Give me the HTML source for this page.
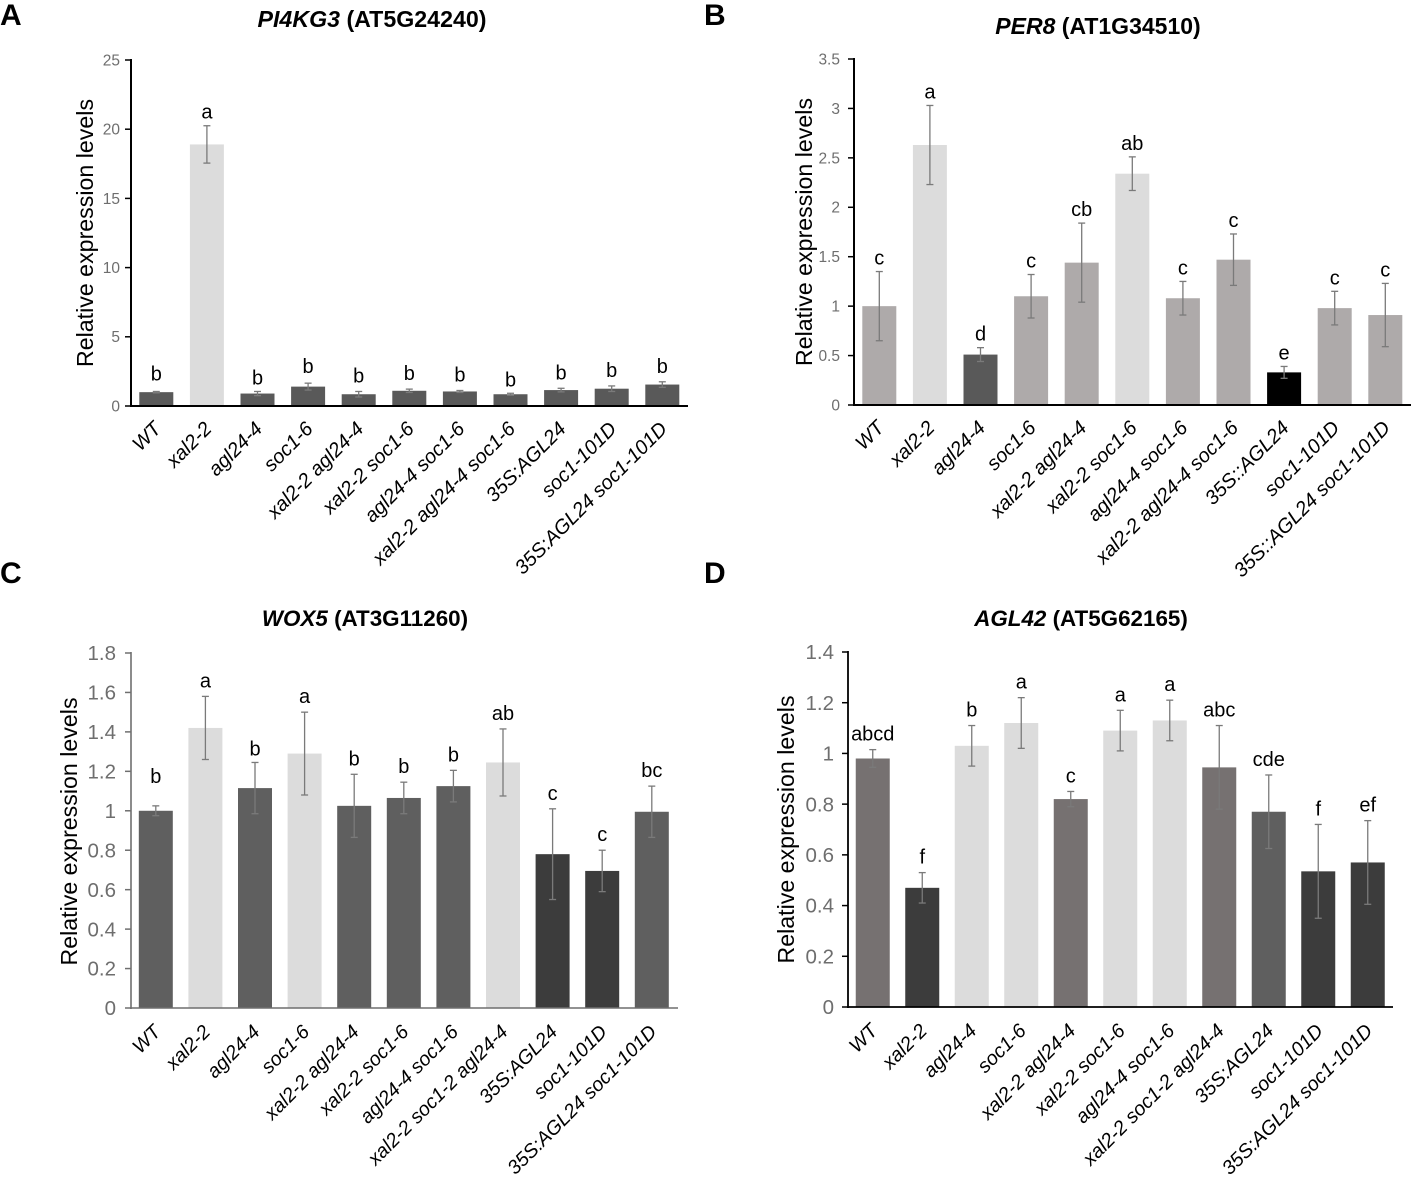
<!DOCTYPE html>
<html lang="en">
<head>
<meta charset="utf-8">
<title>Relative expression levels</title>
<style>
html,body{margin:0;padding:0;background:#fff;}
svg{display:block;font-family:"Liberation Sans",Arial,sans-serif;}
</style>
</head>
<body>
<svg id="fig" xmlns="http://www.w3.org/2000/svg" width="1417" height="1182" viewBox="0 0 1417 1182"></svg>
<script>
/* ---- Panel A data ---- */
const aCategories = ['WT','xal2-2','agl24-4','soc1-6','xal2-2 agl24-4','xal2-2 soc1-6','agl24-4 soc1-6','xal2-2 agl24-4 soc1-6','35S:AGL24','soc1-101D','35S:AGL24 soc1-101D'];
const aValues = [1.0,18.9,0.9,1.4,0.85,1.1,1.05,0.85,1.15,1.25,1.55];
const aErrors = [0.05,1.35,0.15,0.25,0.2,0.12,0.07,0.07,0.13,0.2,0.2];
const aLetters = ['b','a','b','b','b','b','b','b','b','b','b'];
const aShades = ['dark','light','dark','dark','dark','dark','dark','dark','dark','dark','dark'];
const aTicks = ['0','5','10','15','20','25'];

/* ---- Panel B data ---- */
const bCategories = ['WT','xal2-2','agl24-4','soc1-6','xal2-2 agl24-4','xal2-2 soc1-6','agl24-4 soc1-6','xal2-2 agl24-4 soc1-6','35S::AGL24','soc1-101D','35S::AGL24 soc1-101D'];
const bValues = [1.0,2.63,0.51,1.1,1.44,2.34,1.08,1.47,0.33,0.98,0.91];
const bErrors = [0.35,0.4,0.07,0.22,0.4,0.17,0.17,0.26,0.06,0.17,0.32];
const bLetters = ['c','a','d','c','cb','ab','c','c','e','c','c'];
const bShades = ['mid','light','dark','mid','mid','light','mid','mid','black','mid','mid'];
const bTicks = ['0','0.5','1','1.5','2','2.5','3','3.5'];

/* ---- Panel C data ---- */
const cCategories = ['WT','xal2-2','agl24-4','soc1-6','xal2-2 agl24-4','xal2-2 soc1-6','agl24-4 soc1-6','xal2-2 soc1-2 agl24-4','35S:AGL24','soc1-101D','35S:AGL24 soc1-101D'];
const cValues = [1.0,1.42,1.115,1.29,1.025,1.065,1.125,1.245,0.78,0.695,0.995];
const cErrors = [0.025,0.16,0.13,0.21,0.16,0.08,0.08,0.17,0.23,0.105,0.13];
const cLetters = ['b','a','b','a','b','b','b','ab','c','c','bc'];
const cShades = ['slate','light','slate','light','slate','slate','slate','light','char','char','slate'];
const cTicks = ['0','0.2','0.4','0.6','0.8','1','1.2','1.4','1.6','1.8'];

/* ---- Panel D data ---- */
const dCategories = ['WT','xal2-2','agl24-4','soc1-6','xal2-2 agl24-4','xal2-2 soc1-6','agl24-4 soc1-6','xal2-2 soc1-2 agl24-4','35S:AGL24','soc1-101D','35S:AGL24 soc1-101D'];
const dValues = [0.98,0.47,1.03,1.12,0.82,1.09,1.13,0.945,0.77,0.535,0.57];
const dErrors = [0.035,0.06,0.08,0.1,0.03,0.08,0.08,0.165,0.145,0.185,0.165];
const dLetters = ['abcd','f','b','a','c','a','a','abc','cde','f','ef'];
const dShades = ['warm','char','light','light','warm','light','light','warm','slate','char','char'];
const dTicks = ['0','0.2','0.4','0.6','0.8','1','1.2','1.4'];

const palette = {dark:'#595959',light:'#dcdcdc',mid:'#aeaaaa',black:'#000000',slate:'#5f5f5f',char:'#3c3c3c',warm:'#767171'};
const NS = 'http://www.w3.org/2000/svg';
const fig = document.getElementById('fig');

function make(parent, tag, attrs, text){
  const n = document.createElementNS(NS, tag);
  for (const k in attrs) n.setAttribute(k, attrs[k]);
  if (text !== undefined) n.textContent = text;
  parent.appendChild(n);
  return n;
}
function slug(s){ return s.toLowerCase().replace(/[^a-z0-9]+/g,'-'); }

function drawPanel(p){
  const g = make(fig,'g',{});
  
  

  const maxV = parseFloat(p.ticks[p.ticks.length-1]);
  const yScale = v => p.bottom - (v / maxV) * (p.bottom - p.top);
  const xScale = i => p.left + p.band * (i + 0.5);

  // panel letter
  const pl = make(g,'text',{x:p.tagX,y:p.tagY,'font-size':30,'font-weight':'bold',fill:'#000'},p.id.toUpperCase());
  
  

  // title
  const t = make(g,'text',{x:p.titleX,y:p.titleY,'font-size':p.titleSize,'font-weight':'bold','text-anchor':'middle',fill:'#000'});
  
  
  make(t,'tspan',{'font-style':'italic'},p.gene);
  make(t,'tspan',{},' ' + p.locus);

  // y axis title
  const yt = make(g,'text',{transform:'translate('+p.yTitleX+','+((p.top+p.bottom)/2+p.yTitleShift)+') rotate(-90)','font-size':p.yTitleSize,'text-anchor':'middle',fill:'#000'},'Relative expression levels');
  
  

  // bars
  p.values.forEach((v,i)=>{
    const r = make(g,'rect',{x:xScale(i)-p.barW/2,y:yScale(v),width:p.barW,height:p.bottom-yScale(v),fill:palette[p.shades[i]]});
    
    
  });

  // error bars + letters
  p.values.forEach((v,i)=>{
    const x = xScale(i), hi = yScale(v + p.errors[i]), lo = yScale(v - p.errors[i]);
    const eg = make(g,'g',{stroke:'#7a7a7a','stroke-width':1.3,fill:'none'});
    
    
    make(eg,'line',{x1:x,x2:x,y1:hi,y2:lo});
    make(eg,'line',{x1:x-3.5,x2:x+3.5,y1:hi,y2:hi});
    make(eg,'line',{x1:x-3.5,x2:x+3.5,y1:lo,y2:lo});
    const extra = (p.letterLift && p.letterLift[i]) || 0;
    const l = make(g,'text',{x:x,y:hi-p.letterGap-extra,'font-size':p.letterSize,'text-anchor':'middle',fill:'#000'},p.letters[i]);
    
    
  });

  // axes
  const ax = make(g,'g',{stroke:p.axisColor,'stroke-width':p.axisW,fill:'none'});
  
  
  make(ax,'line',{x1:p.left,x2:p.left,y1:p.top-1,y2:p.bottom+1});
  make(ax,'line',{x1:p.left-1,x2:p.right,y1:p.bottom,y2:p.bottom});

  // y ticks
  p.ticks.forEach(tk=>{
    const y = yScale(parseFloat(tk));
    make(ax,'line',{x1:p.left-6,x2:p.left,y1:y,y2:y,'stroke-width':1.5});
    const lab = make(g,'text',{x:p.left-p.tickGap,y:y+p.tickSize*0.35,'font-size':p.tickSize,'text-anchor':'end',fill:'#6e6e6e'},tk);
    
    
  });

  // x labels
  p.categories.forEach((c,i)=>{
    const x = xScale(i) + p.catDX, y = p.bottom + p.catDY;
    const lab = make(g,'text',{transform:'translate('+x+','+y+') rotate(-45)','font-size':p.catSize,'font-style':'italic','text-anchor':'end',fill:'#000'},c);
    
    
  });
}

drawPanel({id:'a',gene:'PI4KG3',locus:'(AT5G24240)',categories:aCategories,values:aValues,errors:aErrors,letters:aLetters,shades:aShades,ticks:aTicks,letterLift:{0:4,3:3,4:2,5:2,6:2,8:2,9:2,10:2},
  left:131,right:688,top:60,bottom:406,band:50.6,barW:34,axisColor:'#000',axisW:2,tickSize:15.5,tickGap:11,tagX:0,tagY:25,titleX:372,titleY:27,titleSize:23.2,
  yTitleX:93,yTitleShift:0,yTitleSize:23.2,letterGap:7,letterSize:20,catSize:20,catDX:6,catDY:24});
drawPanel({id:'b',gene:'PER8',locus:'(AT1G34510)',categories:bCategories,values:bValues,errors:bErrors,letters:bLetters,shades:bShades,ticks:bTicks,
  left:854,right:1411,top:59,bottom:405,band:50.6,barW:34,axisColor:'#000',axisW:2,tickSize:15.5,tickGap:14,tagX:704,tagY:25,titleX:1098,titleY:34,titleSize:23,
  yTitleX:812,yTitleShift:0,yTitleSize:23.2,letterGap:7,letterSize:20,catSize:20,catDX:6,catDY:24});
drawPanel({id:'c',gene:'WOX5',locus:'(AT3G11260)',categories:cCategories,values:cValues,errors:cErrors,letters:cLetters,shades:cShades,ticks:cTicks,letterLift:{0:14,2:-2},
  left:131,right:678,top:653,bottom:1008,band:49.6,barW:34,axisColor:'#6f6f6f',axisW:1.6,tickSize:20.5,tickGap:15,tagX:0,tagY:583,titleX:365,titleY:626,titleSize:22.4,
  yTitleX:77,yTitleShift:1,yTitleSize:23.2,letterGap:9,letterSize:20,catSize:19.6,catDX:6,catDY:25});
drawPanel({id:'d',gene:'AGL42',locus:'(AT5G62165)',categories:dCategories,values:dValues,errors:dErrors,letters:dLetters,shades:dShades,ticks:dTicks,
  left:848,right:1393,top:652,bottom:1007,band:49.5,barW:34,axisColor:'#000',axisW:1.8,tickSize:20.5,tickGap:14,tagX:704,tagY:583,titleX:1081,titleY:626,titleSize:22.4,
  yTitleX:794,yTitleShift:0,yTitleSize:23.2,letterGap:9,letterSize:20,catSize:19.8,catDX:6,catDY:25});
</script>
</body>
</html>
